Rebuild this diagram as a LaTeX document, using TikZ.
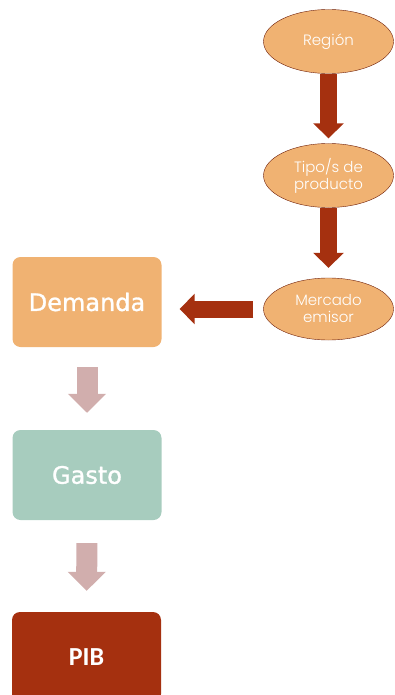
\documentclass[tikz,border=0pt]{standalone}
\usepackage{fontspec}
\setmainfont{Carlito}
\newfontfamily\ovalfont{Poppins Light}
\newfontfamily\blockfont[FakeBold=1.2]{DejaVu Sans}
\usetikzlibrary{arrows.meta, shapes.geometric}
\definecolor{tanorange}{HTML}{F0B272}
\definecolor{sagegreen}{HTML}{A7CCBE}
\definecolor{rustred}{HTML}{A5300F}
\definecolor{rustdark}{HTML}{6E1E08}
\definecolor{dustypink}{HTML}{D1AEAD}

\begin{document}
\begin{tikzpicture}[x=1pt, y=-1pt,
		oval/.style={draw=rustdark, ellipse, fill=tanorange, minimum width=130pt, minimum height=64pt, inner sep=0pt, text=white, font=\ovalfont\fontsize{15}{17}\selectfont, align=center},
		block/.style={rounded corners=8pt, minimum width=149pt, minimum height=90pt, inner sep=0pt, text=white, font=\blockfont\fontsize{24}{26}\selectfont},
		bigarrow/.style={draw=rustred, line width=17pt, -{Triangle[width=30pt, length=15pt]}},
		softarrow/.style={draw=dustypink, line width=21pt, -{Triangle[width=37pt, length=19pt]}}]
		\useasboundingbox (0,0) rectangle (394,695);
		\clip (0,0) rectangle (394,695);

		\node[oval] (region) at (328.5,41.5) {Región};
		\node[oval] (tipo) at (328.5,175.5) {Tipo/s de\\producto};
		\node[oval, minimum height=62pt] (mercado) at (328.5,309) {Mercado\\emisor};

		\node[block, fill=tanorange] (demanda) at (87,302) {Demanda};
		\node[block, fill=sagegreen] (gasto) at (87,475) {Gasto};
		\node[block, fill=rustred, font=\fontsize{26}{28}\selectfont\bfseries] (pib) at (86.5,657) {PIB};

		\draw[bigarrow, shorten >=5pt] (region) -- (tipo);
		\draw[bigarrow, shorten >=10pt] (tipo) -- (mercado);
		\draw[bigarrow, shorten <=10pt, shorten >=18pt] (mercado.west) -- (demanda.east |- mercado.west);

		\draw[softarrow, shorten <=20pt, shorten >=17pt] (demanda) -- (gasto);
		\draw[softarrow, shorten <=23pt, shorten >=21pt] (gasto) -- (pib);
\end{tikzpicture}
\end{document}
